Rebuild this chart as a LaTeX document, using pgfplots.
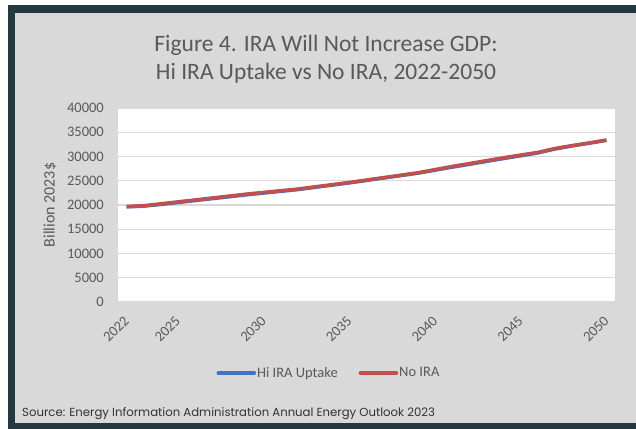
\documentclass[border=0pt]{standalone}
\usepackage{pgfplots}
\pgfplotsset{compat=1.18}
\usepackage{fontspec}
\setmainfont{Carlito}
\newfontfamily\srcfont{Poppins}
\definecolor{framec}{HTML}{22393F}
\definecolor{chartbg}{HTML}{D9D9D9}
\definecolor{txt}{HTML}{595959}
\definecolor{gridc}{HTML}{D9D9D9}
\definecolor{serblue}{HTML}{4472C4}
\definecolor{serred}{HTML}{C0504D}
\begin{document}
\begin{tikzpicture}
\useasboundingbox (0,0) rectangle (636bp,-429bp);
\fill[white] (0,0) rectangle (636bp,-429bp);
\fill[framec] (8bp,-5bp) rectangle (636bp,-429bp);
\fill[chartbg] (15bp,-13bp) rectangle (636bp,-423bp);
\node[text=txt, align=center, font=\fontsize{23.5bp}{28bp}\selectfont] at (326bp,-59bp) {Figure 4. IRA Will Not Increase GDP:\\Hi IRA Uptake vs No IRA, 2022-2050};
\node[anchor=base west, inner sep=0pt, text=black!80, font=\srcfont\fontsize{11.7bp}{13bp}\selectfont] at (22bp,-416bp) {Source: Energy Information Administration Annual Energy Outlook 2023};
\begin{axis}[
  at={(118bp,-302bp)}, anchor=south west,
  scale only axis, width=497bp, height=194bp,
  xmin=2021.5, xmax=2050.5, ymin=0, ymax=40000,
  xtick={2022,2025,2030,2035,2040,2045,2050},
  ytick={0,5000,...,40000},
  /pgf/number format/assume math mode=true,
  /pgf/number format/1000 sep={},
  scaled y ticks=false,
  axis line style={draw=none},
  tick style={draw=none},
  axis background/.style={fill=white},
  ymajorgrids, grid style={gridc, line width=1.2bp},
  ticklabel style={text=txt, font=\fontsize{14.5bp}{17bp}\selectfont},
  xticklabel style={rotate=45, anchor=east, inner sep=0pt, xshift=-11.8bp, yshift=-11.8bp},
  yticklabel style={anchor=east, inner sep=0pt, xshift=-14bp},
  ylabel={Billion 2023\$},
  every axis y label/.style={at={(50bp-118bp,0.5)}, rotate=90, anchor=center, text=txt, font=\fontsize{16bp}{18bp}\selectfont},
  legend style={at={(axis description cs:0.4235,-0.366)}, anchor=center, draw=none, fill=none,
    legend columns=2, font=\fontsize{14.5bp}{17bp}\selectfont, text=txt,
    nodes={inner sep=1bp},
    /tikz/every even column/.append style={column sep=20bp}},
  legend image code/.code={\draw[#1, line width=3.5bp, line cap=round] (0bp,0bp) -- (36bp,0bp);},
]
\addplot[serblue, line width=3.5bp, line join=round] coordinates {
(2022,19620) (2023,19760) (2024,20120) (2025,20510) (2026,20910) (2027,21310) (2028,21700) (2029,22100) (2030,22460)
(2031,22820) (2032,23180) (2033,23640) (2034,24100) (2035,24560) (2036,25060) (2037,25560) (2038,26060) (2039,26560)
(2040,27180) (2041,27800) (2042,28380) (2043,28980) (2044,29580) (2045,30150) (2046,30740) (2047,31550) (2048,32180) (2049,32740) (2050,33340)
};
\addlegendentry{Hi IRA Uptake}
\addplot[serred, line width=3.5bp, line join=round] coordinates {
(2022,19700) (2023,19850) (2024,20250) (2025,20650) (2026,21050) (2027,21450) (2028,21850) (2029,22250) (2030,22600)
(2031,22950) (2032,23300) (2033,23750) (2034,24200) (2035,24650) (2036,25150) (2037,25650) (2038,26150) (2039,26650)
(2040,27300) (2041,27950) (2042,28550) (2043,29150) (2044,29750) (2045,30300) (2046,30850) (2047,31650) (2048,32250) (2049,32800) (2050,33400)
};
\addlegendentry{No IRA}
\end{axis}
\end{tikzpicture}
\end{document}
